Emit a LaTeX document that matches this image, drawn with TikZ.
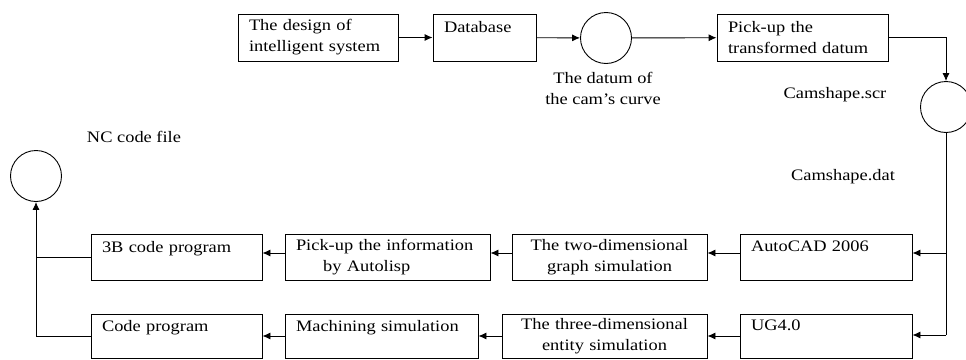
\documentclass[tikz,border=0pt]{standalone}
\usepackage{fontspec}
\setmainfont{Liberation Serif}[FakeStretch=1.15]
\usetikzlibrary{arrows.meta}

\begin{document}
\begin{tikzpicture}[x=1pt,y=-1pt,line width=0.9pt,
    font=\fontsize{16}{21}\selectfont,
    arr/.style={-{Latex[length=8pt,width=7pt]}}]

        \useasboundingbox (0,0) rectangle (966,359);
        \clip (0,0) rectangle (966,359);

        % blocks
        \begin{scope}[every node/.style={draw,inner xsep=11pt,inner ysep=2pt,align=left}]
          \node (design)  at (318,37.5)  [text width=138pt,minimum height=47pt] {The design of\\intelligent system};
          \node (dbase)   at (484.5,37.5)[text width=81pt,minimum height=47pt] {Database\\~};
          \node (pick)    at (802.5,37.5)[text width=149pt,minimum height=47pt] {Pick-up the\\transformed datum};
          \node (acad)    at (826,257)   [text width=150pt,minimum height=46pt] {AutoCAD 2006\\~};
          \node (twod)    at (609.5,257) [text width=173pt,minimum height=46pt,align=center] {The two-dimensional\\graph simulation};
          \node (pinfo)   at (387.5,257) [text width=183pt,minimum height=46pt] {Pick-up the information\\\hspace*{1.7em}by Autolisp};
          \node (bcode)   at (176.5,257) [text width=149pt,minimum height=46pt] {3B code program\\~};
          \node (ug)      at (826,336)   [text width=150pt,minimum height=44pt] {UG4.0\\~};
          \node (threed)  at (604.5,336) [text width=183pt,minimum height=44pt,align=center] {The three-dimensional\\entity simulation};
          \node (mach)    at (381.5,336) [text width=171pt,minimum height=44pt] {Machining simulation\\~};
          \node (code)    at (176.5,336) [text width=149pt,minimum height=44pt] {Code program\\~};
        \end{scope}

        % data files
        \begin{scope}[every node/.style={circle,draw,inner sep=0pt,minimum size=51pt}]
          \node (datum) at (606,38)  {};
          \node (scr)   at (946,107) {};
          \node (nc)    at (36,176)  {};
        \end{scope}

        % labels
        \begin{scope}[every node/.style={align=center,inner sep=0pt}]
          \node (datumlbl) at (603,88)  {The datum of\\the cam's curve};
          \node (scrlbl)   at (835,95)  {Camshape.scr};
          \node (datlbl)   at (843,177) {Camshape.dat};
          \node (nclbl)    at (134,137) {NC code file};
        \end{scope}

        \coordinate (ra) at (946,253);
        \coordinate (rb) at (946,335);

        \draw[arr] (design) -- (dbase);
        \draw[arr] (dbase) -- (datum);
        \draw[arr] (datum) -- (pick);
        \draw[arr] (pick.east) -| (scr.north);
        \draw (scr.south) -- (rb);
        \draw[arr] (ra) -- (acad.east |- ra);
        \draw[arr] (rb) -- (ug.east |- rb);

        \draw[arr] ([yshift=4pt]acad.west) -- ([yshift=4pt]twod.east);
        \draw[arr] ([yshift=4pt]twod.west) -- ([yshift=4pt]pinfo.east);
        \draw[arr] ([yshift=4pt]pinfo.west) -- ([yshift=4pt]bcode.east);
        \draw[arr] (ug) -- (threed);
        \draw[arr] (threed) -- (mach);
        \draw[arr] (mach) -- (code);

        \draw (bcode.west) -- (bcode.west -| nc.south);
        \draw[arr] (code.west) -| (nc.south);

      \end{tikzpicture}
\end{document}
